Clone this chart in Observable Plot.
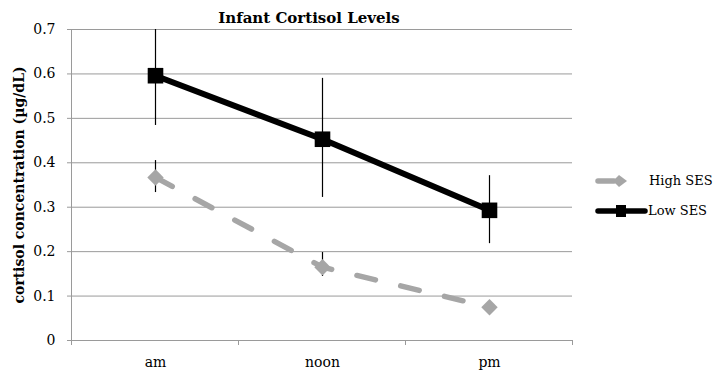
<!DOCTYPE html>
<html><head><meta charset="utf-8">
<script src="https://cdn.jsdelivr.net/npm/d3@7"></script>
<script src="https://cdn.jsdelivr.net/npm/@observablehq/plot@0.6"></script>
<style>body{margin:0;background:#fff}</style>
</head><body><div id="chart"></div>
<script>
const times = ["am", "noon", "pm"];
const seriesNames = ["High SES", "Low SES"];
const highMean = [0.367, 0.165, 0.075];
const highLo   = [0.333, 0.144, 0.072];
const highHi   = [0.405, 0.198, 0.078];
const lowMean  = [0.596, 0.453, 0.293];
const lowLo    = [0.484, 0.322, 0.218];
const lowHi    = [0.700, 0.590, 0.371];
const yTicks = [0, 0.1, 0.2, 0.3, 0.4, 0.5, 0.6, 0.7];
const title = "Infant Cortisol Levels";
const yLabel = "cortisol concentration (µg/dL)";

const GRAY = "#a6a6a6";
const GRID = "#9a9a9a";
const FONT = "DejaVu Serif, serif";

const high = times.map((t, i) => ({time: t, series: seriesNames[0], mean: highMean[i], lo: highLo[i], hi: highHi[i]}));
const low = times.map((t, i) => ({time: t, series: seriesNames[1], mean: lowMean[i], lo: lowLo[i], hi: lowHi[i]}));

function axisFrame(index, scales) {
  const x = scales.x, y = scales.y;
  const step = x(times[1]) - x(times[0]);
  const xs = times.map(t => x(t) - step / 2).concat([x(times[times.length - 1]) + step / 2]);
  const g = d3.create("svg:g").attr("stroke", GRID).attr("stroke-width", 1);
  const y0 = y(0);
  g.append("line").attr("x1", xs[0]).attr("x2", xs[0]).attr("y1", y(yTicks[yTicks.length - 1])).attr("y2", y0);
  for (const xx of xs) g.append("line").attr("x1", xx).attr("x2", xx).attr("y1", y0).attr("y2", y0 + 5);
  return g.node();
}

const plot = Plot.plot({
  width: 713, height: 374,
  marginLeft: 71, marginRight: 141, marginTop: 29, marginBottom: 34,
  style: {fontFamily: FONT, fontSize: "14px", background: "#fff", color: "#000"},
  x: {type: "point", domain: times, padding: 0.5},
  y: {domain: [0, 0.7]},
  marks: [
    Plot.gridY(yTicks, {stroke: GRID, strokeOpacity: 1, strokeWidth: 1}),
    Plot.axisY(yTicks, {tickSize: 4, stroke: GRID, tickPadding: 12, fontSize: 14, label: null,
      tickFormat: d => d === 0 ? "0" : d.toFixed(1)}),
    Plot.axisX({tickSize: 0, tickPadding: 17, fontSize: 14, label: null}),
    axisFrame,
    Plot.ruleX(low, {x: "time", y1: "lo", y2: "hi", stroke: "#000", strokeWidth: 1.2}),
    Plot.ruleX(high, {x: "time", y1: "lo", y2: "hi", stroke: "#000", strokeWidth: 1.2}),
    Plot.line(high, {x: "time", y: "mean", stroke: GRAY, strokeWidth: 5.5, strokeDasharray: "19,26", strokeLinecap: "round"}),
    Plot.dot(high, {x: "time", y: "mean", symbol: "diamond2", r: 7.4, fill: GRAY, stroke: "none"}),
    Plot.line(low, {x: "time", y: "mean", stroke: "#000", strokeWidth: 6}),
    Plot.dot(low, {x: "time", y: "mean", symbol: "square", r: 8.8, fill: "#000", stroke: "none"}),
    Plot.text([title], {frameAnchor: "top", lineAnchor: "middle", dy: -11, dx: -13, fontWeight: "bold", fontSize: 15}),
    Plot.text([yLabel], {frameAnchor: "left", textAnchor: "middle", rotate: -90, dx: -52, fontWeight: "bold", fontSize: 14})
  ]
});

// legend
const svg = d3.select(plot);
const lg = svg.append("g").attr("font-family", FONT).attr("font-size", 13).attr("text-anchor", "start").attr("fill", "#000");
const l1 = lg.append("g").attr("transform", "translate(598,181)");
l1.append("line").attr("x1", 0).attr("x2", 16).attr("y1", 0).attr("y2", 0).attr("stroke", GRAY).attr("stroke-width", 5.5).attr("stroke-linecap", "round");
l1.append("path").attr("d", "M21,-6L29,0L21,6L15,0Z").attr("fill", GRAY);
l1.append("text").attr("x", 51).attr("y", 0).attr("dy", "0.32em").text(seriesNames[0]);
const l2 = lg.append("g").attr("transform", "translate(598,211)");
l2.append("line").attr("x1", 0).attr("x2", 47).attr("y1", 0).attr("y2", 0).attr("stroke", "#000").attr("stroke-width", 5.5).attr("stroke-linecap", "round");
l2.append("rect").attr("x", 18).attr("y", -6).attr("width", 10).attr("height", 12).attr("fill", "#000");
l2.append("text").attr("x", 50).attr("y", 0).attr("dy", "0.32em").text(seriesNames[1]);

document.getElementById("chart").appendChild(plot);
</script>
</body></html>
